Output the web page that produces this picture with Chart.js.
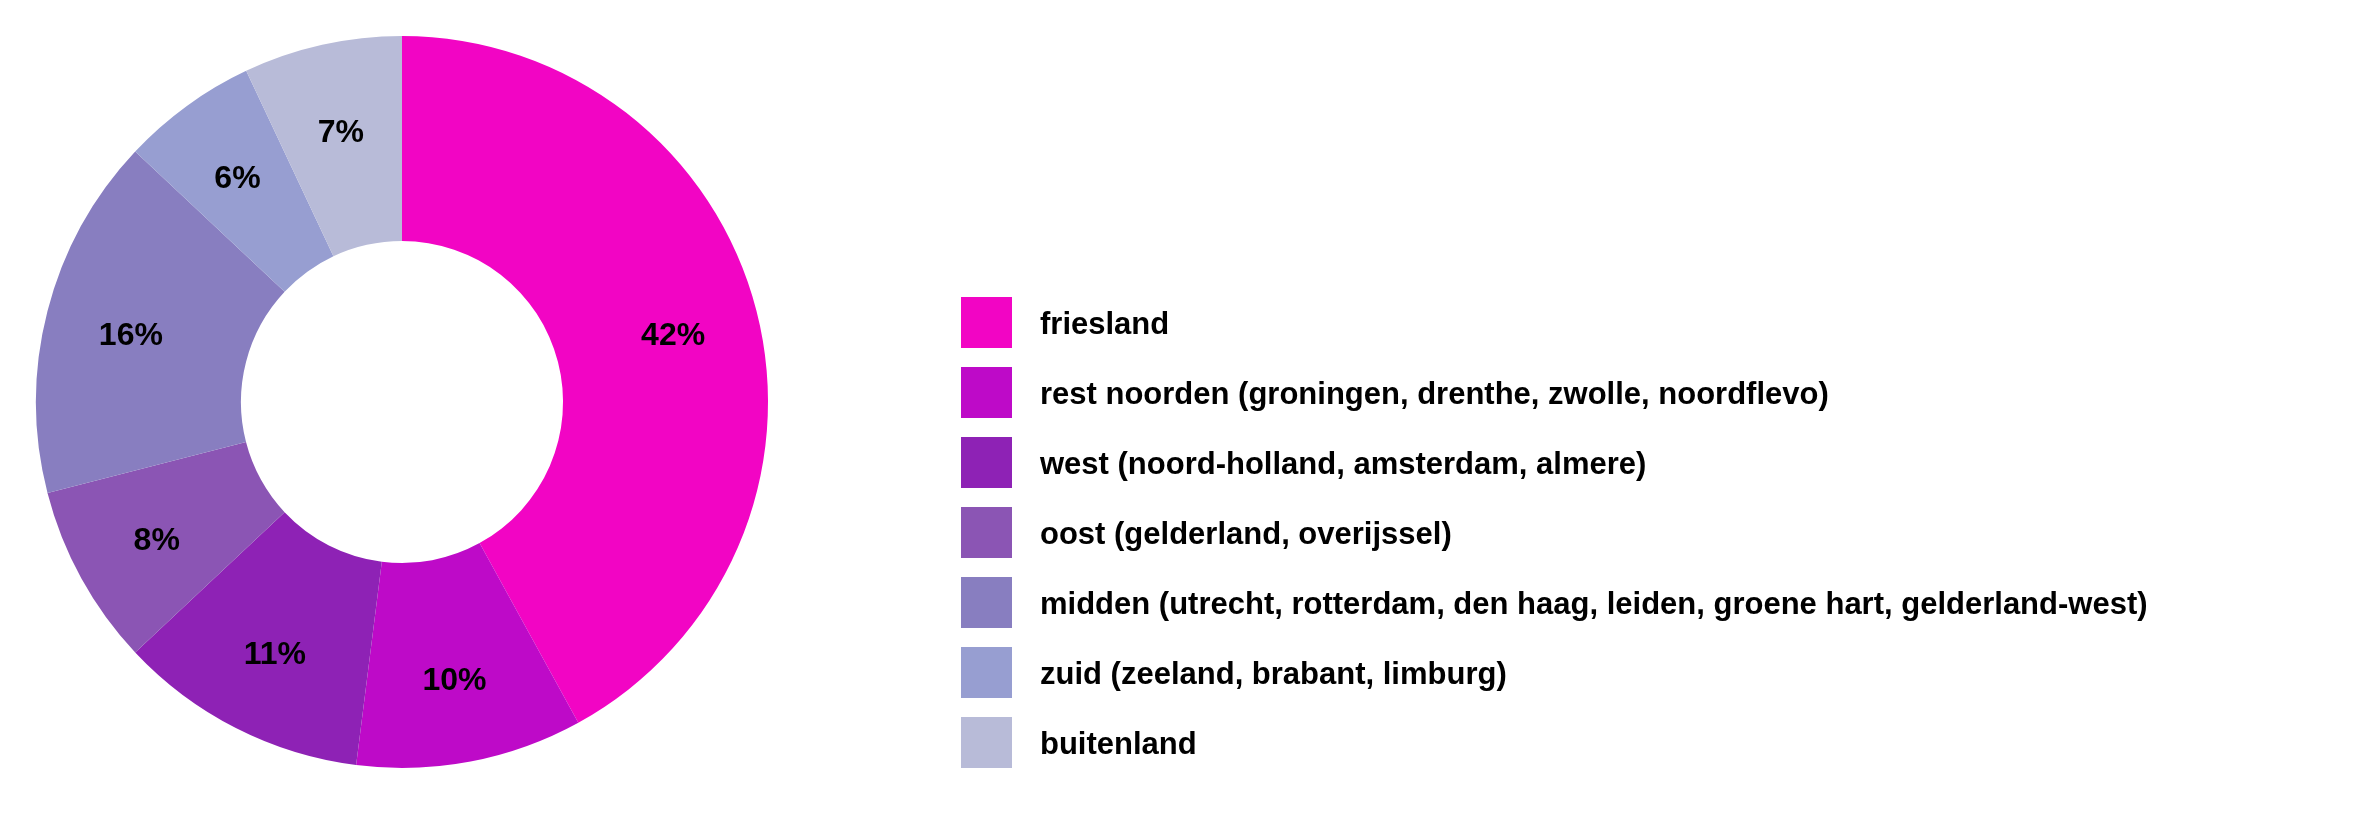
<!DOCTYPE html>
<html>
<head>
<meta charset="utf-8">
<script src="https://cdn.jsdelivr.net/npm/chart.js@4"></script>
<style>
  html, body { margin: 0; padding: 0; background: #fff; }
  #wrap { width: 2363px; height: 834px; position: relative; }
</style>
</head>
<body>
<div id="wrap"><canvas id="chart-area"></canvas></div>
<script>
// regio's en aandelen (procent)
var regions = [
  "friesland",
  "rest noorden (groningen, drenthe, zwolle, noordflevo)",
  "west (noord-holland, amsterdam, almere)",
  "oost (gelderland, overijssel)",
  "midden (utrecht, rotterdam, den haag, leiden, groene hart, gelderland-west)",
  "zuid (zeeland, brabant, limburg)",
  "buitenland"
];
var shares = [42, 10, 11, 8, 16, 6, 7];
var colors = ["#F205C4", "#BE0AC8", "#8E22B5", "#8B55B4", "#887EC0", "#979ED1", "#B8BBD8"];

// percentages in the ring
var sliceLabels = {
  id: "sliceLabels",
  afterDatasetsDraw: function(chart) {
    var ctx = chart.ctx;
    var meta = chart.getDatasetMeta(0);
    ctx.save();
    ctx.font = "bold 32px 'Liberation Sans', Arial, sans-serif";
    ctx.fillStyle = "#000";
    ctx.textAlign = "center";
    ctx.textBaseline = "middle";
    meta.data.forEach(function(arc, i) {
      var p = arc.getProps(["x", "y", "startAngle", "endAngle", "innerRadius", "outerRadius"], true);
      var mid = (p.startAngle + p.endAngle) / 2;
      var r = p.innerRadius + (p.outerRadius - p.innerRadius) * 0.58;
      ctx.fillText(chart.data.datasets[0].data[i] + "%", p.x + Math.cos(mid) * r, p.y + Math.sin(mid) * r + 4);
    });
    ctx.restore();
  }
};

// legenda rechts
var sideLegend = {
  id: "sideLegend",
  afterDraw: function(chart) {
    var ctx = chart.ctx;
    var ds = chart.data.datasets[0];
    ctx.save();
    ctx.font = "bold 31px 'Liberation Sans', Arial, sans-serif";
    ctx.textBaseline = "middle";
    ctx.textAlign = "left";
    chart.data.labels.forEach(function(lab, i) {
      var top = 297 + i * 70;
      ctx.fillStyle = ds.backgroundColor[i];
      ctx.fillRect(961, top, 51, 51);
      ctx.fillStyle = "#000";
      ctx.fillText(lab, 1040, top + 28);
    });
    ctx.restore();
  }
};

var ctx = document.getElementById("chart-area");
var myChart = new Chart(ctx, {
  type: "doughnut",
  data: {
    labels: regions,
    datasets: [{
      data: shares,
      backgroundColor: colors,
      borderWidth: 0
    }]
  },
  options: {
    responsive: true,
    maintainAspectRatio: false,
    animation: false,
    cutout: "44%",
    layout: { padding: { left: 36, top: 36, right: 2363 - 768, bottom: 66 } },
    plugins: {
      legend: { display: false },
      tooltip: { enabled: false }
    }
  },
  plugins: [sliceLabels, sideLegend]
});
</script>
</body>
</html>
